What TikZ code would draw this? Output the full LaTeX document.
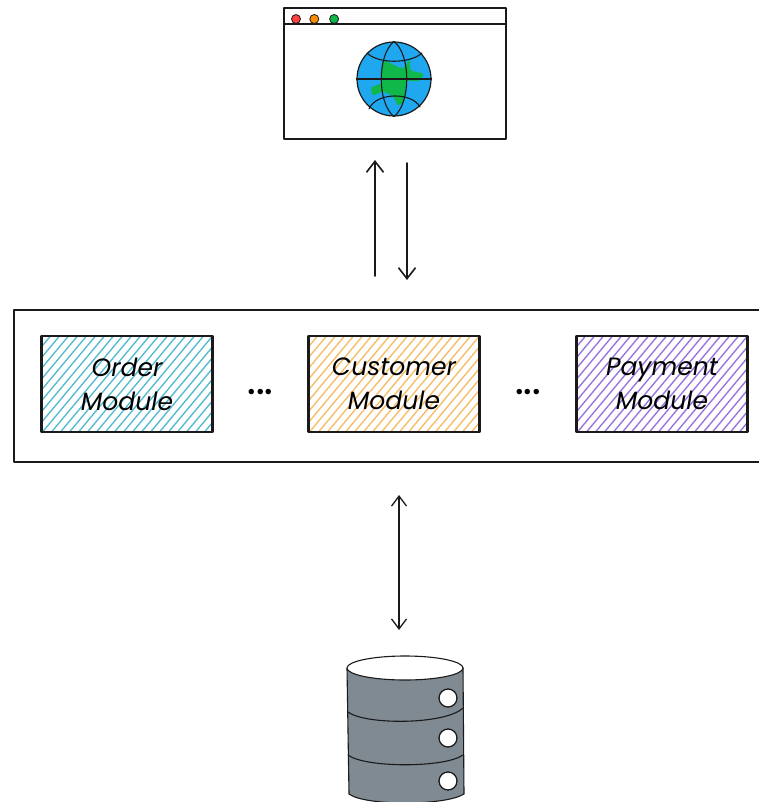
\documentclass[tikz,border=0pt]{standalone}
\usepackage{fontspec}
\setmainfont{Poppins}
\setsansfont{Lato}
\usetikzlibrary{arrows.meta,calc,positioning}

\definecolor{orderteal}{HTML}{55BCCF}
\definecolor{custorange}{HTML}{F6BE6A}
\definecolor{paypurple}{HTML}{9A76DE}
\definecolor{dbgrey}{HTML}{7F8A93}
\definecolor{globeblue}{HTML}{1FA8F0}
\definecolor{landgreen}{HTML}{10B84A}
\definecolor{inkline}{HTML}{1A1A1A}

\tikzset{
	sketch/.style={draw=inkline,line width=1.1pt},
	flow/.style={sketch,line width=1.6pt,-{Straight Barb[length=11pt,width=17pt,line width=1.6pt]}},
	flowboth/.style={sketch,line width=1.3pt,{Straight Barb[length=10pt,width=15pt,line width=1.3pt]}-{Straight Barb[length=10pt,width=15pt,line width=1.3pt]}},
	module/.style={sketch,line width=2.1pt,minimum width=171pt,minimum height=96pt,inner sep=0pt,align=center,font=\itshape\fontsize{25}{34}\selectfont},
	hatched/.style={path picture={
		\foreach \i in {0,...,29}
			\draw[#1,line width=1.4pt] ($(path picture bounding box.south west)+(\i*9-80,0)$) -- ++(80,-96);
	}},
	dots/.style={font=\sffamily\bfseries\fontsize{36}{36}\selectfont,inner sep=0pt,yshift=-8pt},
	lamp/.style={circle,draw=inkline,line width=0.8pt,minimum size=9pt,inner sep=0pt,fill=#1},
	hole/.style={circle,draw=inkline,line width=1.3pt,fill=white,minimum size=18pt,inner sep=0pt},
}

\begin{document}
\begin{tikzpicture}[x=1pt,y=-1pt,line cap=round,line join=round]
	\useasboundingbox (0,0) rectangle (758,802);
	% browser window
	\node[sketch,minimum width=222pt,minimum height=131pt,inner sep=0pt] (browser) at (395,73.5) {};
	\draw[sketch] (284,24) -- (506,24);
	\node[lamp={red!75!white}] (lamp_r) at (296,19) {};
	\node[lamp={orange!90!yellow},right=8.5pt of lamp_r] (lamp_o) {};
	\node[lamp={landgreen},right=10pt of lamp_o] (lamp_g) {};
	% globe
	\node[circle,draw=inkline,line width=1.2pt,fill=globeblue,minimum size=74pt,inner sep=0pt] (globe) at (394,79) {};
	\fill[landgreen] plot[smooth cycle,tension=0.6] coordinates {(384,61) (396,66) (403,68) (410,60) (411,70)
		(423,74) (418,81) (407,82) (404,100) (398,105) (393,97) (383,92) (373,95) (372,87) (381,83) (382,70)};
	\draw[sketch] (globe.west) -- (globe.east);
	\draw[sketch] (globe.north) .. controls (377,55) and (377,103) .. (globe.south);
	\draw[sketch] (globe.north) .. controls (411,55) and (411,103) .. (globe.south);
	\draw[sketch] (367,53) .. controls (378,64) and (410,64) .. (422,53);
	\draw[sketch] (369,109) .. controls (376,92) and (412,92) .. (420,107);
	% arrows browser <-> backend
	\coordinate (up_from) at (375,276);
	\coordinate (up_to) at (375,160);
	\coordinate (down_from) at (407,163);
	\coordinate (down_to) at (407,280);
	\draw[flow] (up_from) -- (up_to);
	\draw[flow] (down_from) -- (down_to);
	% backend with modules
	\node[sketch,line width=1.4pt,minimum width=770pt,minimum height=152pt,inner sep=0pt] (backend) at (399,386) {};
	\node[module,hatched=orderteal] (order) at (127,384) {Order\\Module};
	\node[module,hatched=custorange] (customer) at (394,384) {Customer\\Module};
	\node[module,hatched=paypurple] (payment) at (662,384) {Payment\\Module};
	\node[dots] (dots_a) at ($(order.east)!0.5!(customer.west)$) {...};
	\node[dots] (dots_b) at ($(customer.east)!0.5!(payment.west)$) {...};
	% arrow backend <-> database
	\coordinate (db_from) at (399,495);
	\coordinate (db_to) at (399,630);
	\draw[flowboth] (db_from) -- (db_to);
	% database
	\fill[dbgrey,draw=inkline,line width=1.1pt] (347,668) -- (349,794) .. controls (365,806) and (445,806) .. (464,794) -- (463,668) -- cycle;
	\draw[sketch,fill=white] (405,668) ellipse [x radius=58pt,y radius=12pt];
	\draw[sketch] (348,712) .. controls (365,725) and (445,725) .. (463,708);
	\draw[sketch] (348,755) .. controls (365,768) and (445,768) .. (463,755);
	\node[hole] (hole_a) at (448,698) {};
	\node[hole] (hole_b) at (448,738) {};
	\node[hole] (hole_c) at (448,781) {};
\end{tikzpicture}
\end{document}
